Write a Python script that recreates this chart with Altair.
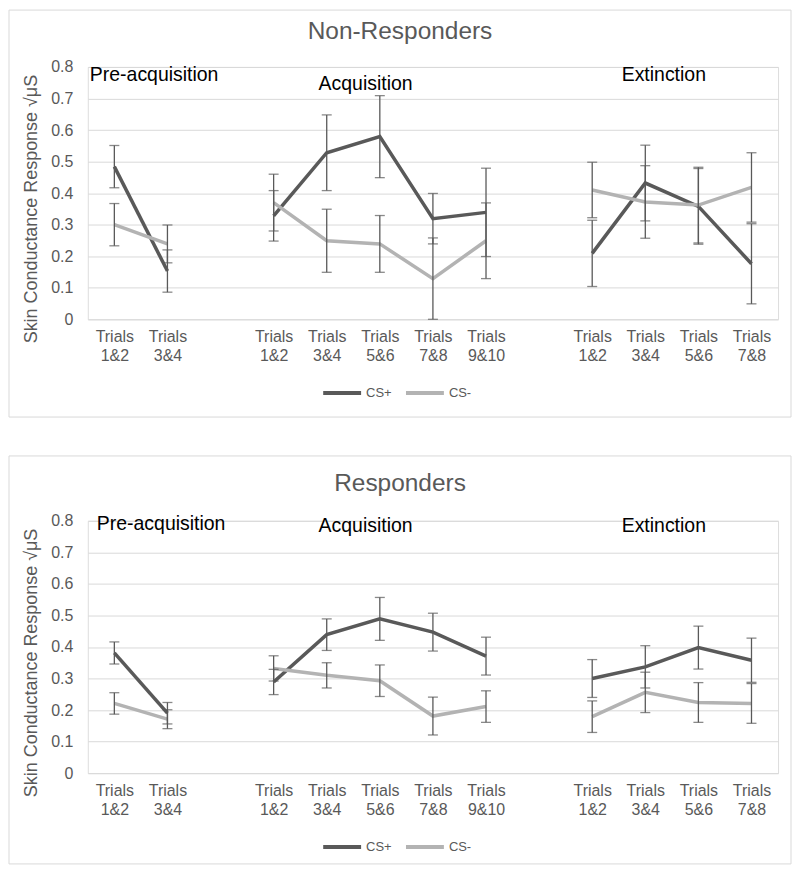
import altair as alt
import pandas as pd

# ---------------- data ----------------
slots = ['Pre 1&2', 'Pre 3&4', 'gap1',
         'Acq 1&2', 'Acq 3&4', 'Acq 5&6', 'Acq 7&8', 'Acq 9&10', 'gap2',
         'Ext 1&2', 'Ext 3&4', 'Ext 5&6', 'Ext 7&8']
phase = ['Pre', 'Pre', 'Acq', 'Acq', 'Acq', 'Acq', 'Acq', 'Ext', 'Ext', 'Ext', 'Ext']
trials = ['1&2', '3&4', '1&2', '3&4', '5&6', '7&8', '9&10', '1&2', '3&4', '5&6', '7&8']
series = ['CS+', 'CS-']

# Non-Responders
nr_csp = [0.484, 0.153, 0.328, 0.528, 0.579, 0.319, 0.339, 0.209, 0.432, 0.358, 0.176]
nr_csp_err = [0.067, 0.067, 0.08, 0.12, 0.13, 0.08, 0.14, 0.105, 0.12, 0.12, 0.127]
nr_csm = [0.300, 0.239, 0.370, 0.249, 0.239, 0.129, 0.249, 0.410, 0.372, 0.362, 0.418]
nr_csm_err = [0.067, 0.06, 0.09, 0.10, 0.09, 0.129, 0.12, 0.088, 0.115, 0.12, 0.11]

# Responders
r_csp = [0.381, 0.190, 0.289, 0.439, 0.489, 0.447, 0.371, 0.300, 0.337, 0.398, 0.358]
r_csp_err = [0.035, 0.034, 0.04, 0.05, 0.068, 0.06, 0.06, 0.06, 0.067, 0.068, 0.07]
r_csm = [0.221, 0.171, 0.332, 0.310, 0.293, 0.181, 0.211, 0.179, 0.256, 0.224, 0.221]
r_csm_err = [0.034, 0.03, 0.04, 0.04, 0.05, 0.06, 0.05, 0.05, 0.064, 0.063, 0.063]

DARK = '#595959'
LIGHT = '#b3b3b3'
GRID = '#d9d9d9'
FONT = 'Liberation Sans'
W, H = 692, 253


def make_df(csp, csp_err, csm, csm_err):
    rows = []
    for s, vals, errs in (('CS+', csp, csp_err), ('CS-', csm, csm_err)):
        for p, t, v, e in zip(phase, trials, vals, errs):
            rows.append({'key': p + ' ' + t, 'phase': p, 'series': s,
                         'v': v, 'lo': max(v - e, 0), 'hi': v + e})
    return pd.DataFrame(rows)


X_AXIS = alt.Axis(title=None, domain=False, ticks=False, labelAngle=0,
                  labelExpr="indexof(datum.label, 'gap') >= 0 ? '' : ['Trials', split(datum.label, ' ')[1]]",
                  labelFont=FONT, labelFontSize=16, labelColor=DARK,
                  labelLineHeight=19, labelPadding=9, labelBaseline='top')
X_SCALE = alt.Scale(domain=slots, type='point', padding=0.5)

Y_AXIS = alt.Axis(title='Skin Conductance Response √μS', values=[0, 0.1, 0.2, 0.3, 0.4, 0.5, 0.6, 0.7, 0.8],
                  format='.1~f', domain=False, ticks=False, grid=True, gridColor=GRID,
                  labelFont=FONT, labelFontSize=16, labelColor=DARK, labelPadding=15,
                  titleFont=FONT, titleFontSize=18, titleFontWeight='normal', titleColor=DARK,
                  titleY=142, titleX=-47)
Y_SCALE = alt.Scale(domain=[0, 0.8], nice=False, zero=True)


def xe():
    return alt.X('key:O', scale=X_SCALE, axis=X_AXIS)


def ye(field):
    return alt.Y(field + ':Q', scale=Y_SCALE, axis=Y_AXIS)


def one_row():
    return pd.DataFrame({'a': [0]})


def panel(title, df, lab_pos, rect_y, legend_y):
    base = alt.Chart(df)
    color = alt.Color('series:N', scale=alt.Scale(domain=series, range=[DARK, LIGHT]),
                      legend=alt.Legend(title=None, orient='none', legendX=234, legendY=legend_y,
                                        direction='horizontal', symbolType='stroke',
                                        symbolSize=1444, symbolStrokeWidth=4,
                                        labelFont=FONT, labelFontSize=13, labelColor=DARK,
                                        labelOffset=3, columnPadding=6))
    border = alt.Chart(one_row()).mark_rect(fillOpacity=0, fill='white', stroke=GRID, strokeWidth=1).encode(
        x=alt.value(-79), x2=alt.value(705), y=alt.value(rect_y[0]), y2=alt.value(rect_y[1]))
    lines = base.mark_line(strokeWidth=3.5).encode(
        x=xe(), y=ye('v'), color=color, detail='phase:N')
    rules = base.mark_rule(color=DARK, strokeWidth=1.3).encode(
        x=xe(), y=ye('lo'), y2='hi:Q')
    tick_lo = base.mark_tick(color=DARK, orient='horizontal', size=10, thickness=1.3).encode(
        x=xe(), y=ye('lo'))
    tick_hi = base.mark_tick(color=DARK, orient='horizontal', size=10, thickness=1.3).encode(
        x=xe(), y=ye('hi'))
    ttl = alt.Chart(one_row()).mark_text(text=title, font=FONT, fontSize=24.5, color=DARK,
                                         align='center', baseline='middle').encode(
        x=alt.value(313), y=alt.value(lab_pos['title']))
    labels = []
    for name, (lx, ly) in lab_pos['phases'].items():
        labels.append(alt.Chart(one_row()).mark_text(text=name, font=FONT, fontSize=19.5,
                                                     color='black', align='center',
                                                     baseline='middle').encode(
            x=alt.value(lx), y=alt.value(ly)))
    return alt.layer(border, lines, rules, tick_lo, tick_hi, ttl, *labels).properties(width=W, height=H)


top = panel('Non-Responders', make_df(nr_csp, nr_csp_err, nr_csm, nr_csm_err),
            {'title': -35, 'phases': {'Pre-acquisition': (66.5, 7.7),
                                      'Acquisition': (278.5, 16.7),
                                      'Extinction': (577.5, 7.7)}},
            (-57, 351), 306)
bottom = panel('Responders', make_df(r_csp, r_csp_err, r_csm, r_csm_err),
               {'title': -37, 'phases': {'Pre-acquisition': (73.5, 3),
                                         'Acquisition': (278.5, 5),
                                         'Extinction': (577.5, 5)}},
               (-65, 344), 306)

chart = alt.vconcat(top, bottom, spacing=37).resolve_legend(color='independent').resolve_scale(
    color='independent').properties(padding=0).configure_view(stroke='transparent', strokeWidth=0).configure(
    background='white')

chart.save('out.html', embed_options={'renderer': 'svg', 'actions': False})
